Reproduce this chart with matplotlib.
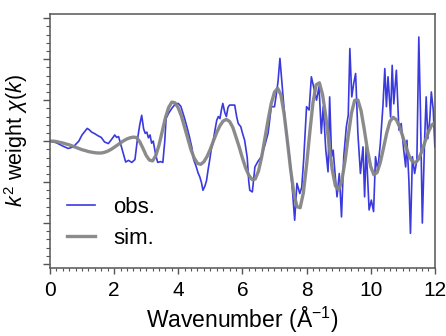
import numpy as np
import matplotlib
matplotlib.use('Agg')
import matplotlib.pyplot as plt
from matplotlib.ticker import MultipleLocator, NullFormatter

# simulated chi(k), sampled every 0.1 from 0 to 12
sim_k = [round(0.1 * i, 1) for i in range(121)]
sim_v = [
    0.0, 0.0, -0.01, -0.03, -0.045, -0.07, -0.09, -0.12, -0.15, -0.18,
    -0.21, -0.23, -0.255, -0.27, -0.283, -0.29, -0.29, -0.274, -0.245, -0.204,
    -0.153, -0.098, -0.042, 0.01, 0.053, 0.082, 0.098, 0.087, -0.015, -0.177,
    -0.35, -0.463, -0.483, -0.355, -0.098, 0.235, 0.57, 0.82, 0.953, 0.934,
    0.81, 0.608, 0.333, 0.057, -0.218, -0.417, -0.544, -0.567, -0.504, -0.372,
    -0.196, 0.013, 0.211, 0.376, 0.491, 0.53, 0.48, 0.337, 0.101, -0.143,
    -0.41, -0.654, -0.832, -0.935, -0.925, -0.737, -0.39, 0.058, 0.517, 0.92,
    1.194, 1.29, 1.128, 0.67, 0.02, -0.672, -1.247, -1.6, -1.626, -1.265,
    -0.587, 0.206, 0.937, 1.375, 1.423, 1.132, 0.602, -0.074, -0.697, -1.094,
    -1.193, -0.965, -0.483, 0.133, 0.682, 0.995, 1.004, 0.741, 0.283, -0.222,
    -0.624, -0.824, -0.765, -0.52, -0.167, 0.199, 0.481, 0.58, 0.521, 0.352,
    0.114, -0.142, -0.364, -0.502, -0.524, -0.432, -0.236, 0.0, 0.225, 0.391,
    0.45,
]

# observed chi(k)
obs_k = [
    0.0, 0.2, 0.4, 0.57, 0.73, 0.9, 1.0, 1.1, 1.16, 1.22, 1.3, 1.4, 1.5, 1.6,
    1.7, 1.82, 1.92, 2.02, 2.08, 2.14, 2.2, 2.3, 2.36, 2.45, 2.55, 2.65, 2.72,
    2.8, 2.86, 2.92, 2.97, 3.02, 3.07, 3.12, 3.17, 3.22, 3.3, 3.36, 3.45, 3.52,
    3.58, 3.62, 3.7, 3.8, 3.9, 4.0, 4.08, 4.18, 4.27, 4.35, 4.42, 4.48, 4.55,
    4.62, 4.67, 4.72, 4.77, 4.83, 4.88, 4.93, 4.98, 5.03, 5.08, 5.13, 5.2,
    5.25, 5.3, 5.35, 5.39, 5.45, 5.5, 5.55, 5.6, 5.7, 5.76, 5.82, 5.87, 5.95,
    6.0, 6.07, 6.15, 6.2, 6.23, 6.31, 6.39, 6.48, 6.59, 6.7, 6.8, 6.9, 7.0,
    7.05, 7.11, 7.17, 7.25, 7.32, 7.4, 7.48, 7.56, 7.63, 7.7, 7.79, 7.85,
    7.91, 8.0, 8.08, 8.15, 8.22, 8.31, 8.39, 8.46, 8.52, 8.6, 8.67, 8.72,
    8.78, 8.83, 8.88, 8.95, 9.02, 9.09, 9.16, 9.24, 9.3, 9.35, 9.41, 9.47,
    9.53, 9.6, 9.68, 9.76, 9.81, 9.86, 9.95, 10.02, 10.09, 10.15, 10.22,
    10.3, 10.38, 10.44, 10.49, 10.54, 10.62, 10.67, 10.72, 10.8, 10.88,
    10.95, 11.03, 11.09, 11.13, 11.19, 11.24, 11.3, 11.37, 11.44, 11.5,
    11.55, 11.61, 11.68, 11.73, 11.78, 11.84, 11.89, 11.95, 12.0,
]
obs_v = [
    0.0, -0.04, -0.12, -0.18, -0.14, 0.0, 0.15, 0.25, 0.31, 0.28, 0.22, 0.18,
    0.13, 0.09, -0.02, -0.06, 0.04, 0.15, 0.09, 0.11, -0.06, -0.35, -0.51,
    -0.47, -0.52, -0.45, 0.0, 0.4, 0.63, 0.3, 0.19, 0.22, 0.08, 0.15, -0.05,
    0.0, -0.35, -0.52, -0.5, -0.52, 0.0, 0.55, 0.68, 0.8, 0.9, 0.92, 0.85,
    0.6, 0.35, 0.1, -0.14, -0.45, -0.6, -0.78, -0.87, -1.0, -1.2, -1.1,
    -0.97, -0.7, -0.46, -0.2, -0.05, 0.2, 0.51, 0.6, 0.55, 0.78, 0.92, 0.7,
    0.6, 0.82, 0.88, 0.88, 0.88, 0.6, 0.43, 0.35, 0.2, 0.02, -0.4, -1.0,
    -1.2, -1.24, -0.63, -0.5, -0.38, -0.1, 0.19, 0.84, 0.84, 1.1, 1.45,
    2.02, 1.24, 0.59, 0.02, -0.46, -1.2, -1.93, -1.03, -1.28, -1.12, -0.46,
    0.84, 0.76, 1.57, 1.33, 1.0, 1.33, 0.19, 0.84, -0.22, -0.75, 1.08,
    -0.38, -0.22, -0.71, -1.36, -0.79, -1.85, -0.38, 0.35, 0.63, 2.26, 1.08,
    1.41, 1.65, 0.19, -0.79, -0.14, -1.36, -0.14, -1.68, -1.44, -1.72,
    -0.38, -0.71, -0.06, 0.84, 1.77, 0.84, 1.57, 0.59, 1.85, 0.91, 1.73,
    0.27, 0.43, -0.22, -0.63, 0.02, -0.95, -2.25, -0.38, -0.79, -0.46, 2.54,
    0.76, -2.0, 0.02, 1.08, 0.06, 0.51, 1.2, 0.76, -0.14,
]

plt.rcParams['font.family'] = ['Liberation Sans', 'DejaVu Sans']
plt.rcParams['mathtext.fontset'] = 'custom'
plt.rcParams['mathtext.rm'] = 'Liberation Sans'
plt.rcParams['mathtext.it'] = 'Liberation Sans:italic'

fig = plt.figure(figsize=(4.46, 3.36), dpi=100)
ax = fig.add_axes([0.112, 0.202, 0.863, 0.756])

ax.plot(obs_k, obs_v, color='#3a3adf', lw=1.2, label='obs.')
ax.plot(sim_k, sim_v, color='#858585', lw=2.4, alpha=0.95, label='sim.')

ax.set_xlim(0, 12)
ax.set_ylim(-3.1, 3.1)

edge = '#555555'
for s in ax.spines.values():
    s.set_color(edge)
    s.set_linewidth(1.1)

ax.xaxis.set_major_locator(MultipleLocator(2))
ax.xaxis.set_minor_locator(MultipleLocator(0.2))
ax.yaxis.set_major_locator(MultipleLocator(1))
ax.yaxis.set_minor_locator(MultipleLocator(0.2))
ax.yaxis.set_major_formatter(NullFormatter())
ax.tick_params(axis='x', which='major', length=4, width=1, color=edge,
               labelsize=15, pad=5)
ax.tick_params(axis='x', which='minor', length=2.5, width=0.8, color=edge)
ax.tick_params(axis='y', which='major', length=5, width=1, color=edge)
ax.tick_params(axis='y', which='minor', length=3, width=0.8, color=edge)

ax.set_xlabel('Wavenumber (Å$^{-1}$)', fontsize=16.5, labelpad=4)
ax.set_ylabel(r'$k^2$ weight $\chi(k)$', fontsize=15.5, labelpad=6)

ax.legend(loc='lower left', bbox_to_anchor=(0.02, 0.04), frameon=False,
          fontsize=16, handlelength=1.3, handletextpad=0.8,
          labelspacing=0.45, borderaxespad=0)

fig.savefig('out.png', dpi=100)
